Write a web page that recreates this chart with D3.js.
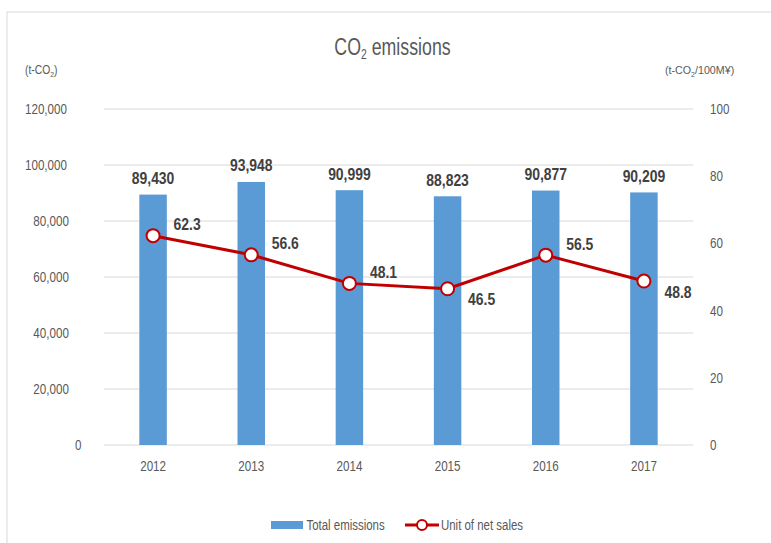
<!DOCTYPE html>
<html>
<head>
<meta charset="utf-8">
<script src="https://cdn.jsdelivr.net/npm/d3@7"></script>
<style>
  body { margin: 0; background: #fff; }
  text { font-family: "Liberation Sans", Arial, sans-serif; }
</style>
</head>
<body>
<svg id="chart"></svg>
<script>
// data
const years = ["2012", "2013", "2014", "2015", "2016", "2017"];
const totalEmissions = [89430, 93948, 90999, 88823, 90877, 90209];
const unitOfSales = [62.3, 56.6, 48.1, 46.5, 56.5, 48.8];
const leftTicks = [0, 20000, 40000, 60000, 80000, 100000, 120000];
const rightTicks = [0, 20, 40, 60, 80, 100];
const lineLabelSide = ["up", "up", "up", "down", "up", "down"];

const width = 771, height = 543;
const margin = {top: 109, bottom: 98, left: 104, right: 78};

// the reference uses a narrow font, so squeeze text horizontally around its anchor
function squeeze(sel, k) {
    sel.each(function () {
        const t = d3.select(this);
        const x0 = +t.attr("x") || 0;
        t.attr("transform", "translate(" + x0 + ",0) scale(" + k + ",1) translate(" + (-x0) + ",0)");
    });
}

const svg = d3.select("#chart")
    .attr("width", width)
    .attr("height", height);

// outer frame
svg.append("rect")
    .attr("x", 7).attr("y", 12)
    .attr("width", width + 20).attr("height", height)
    .attr("fill", "#fff")
    .attr("stroke", "#d9d9d9");

const x = d3.scaleBand()
    .domain(years)
    .range([margin.left, width - margin.right])
    .paddingInner(0.72).paddingOuter(0.36);

const yLeft = d3.scaleLinear()
    .domain([0, 120000])
    .range([height - margin.bottom, margin.top]);

const yRight = d3.scaleLinear()
    .domain([0, 100])
    .range([height - margin.bottom, margin.top]);

const fmt = d3.format(",");

// gridlines
svg.append("g")
    .selectAll("line")
    .data(leftTicks)
    .join("line")
    .attr("x1", margin.left).attr("x2", width - margin.right)
    .attr("y1", d => yLeft(d)).attr("y2", d => yLeft(d))
    .attr("stroke", "#d9d9d9").attr("stroke-width", 1);

// left axis (labels line up like a fixed-pitch column in the picture)
const leftAxis = svg.append("g")
    .call(d3.axisLeft(yLeft).tickValues(leftTicks).tickFormat(fmt).tickSize(0));
leftAxis.select(".domain").remove();
leftAxis.selectAll(".tick text")
    .attr("text-anchor", "start")
    .attr("x", d => 83.3 - 8.33 * fmt(d).length);

// right axis
const rightAxis = svg.append("g")
    .attr("transform", "translate(" + (width - margin.right + 14) + ",0)")
    .call(d3.axisRight(yRight).tickValues(rightTicks).tickSize(0));
rightAxis.select(".domain").remove();

// bottom axis
const bottomAxis = svg.append("g")
    .attr("transform", "translate(0," + (height - margin.bottom + 13) + ")")
    .call(d3.axisBottom(x).tickSize(0));
bottomAxis.select(".domain").remove();

svg.selectAll(".tick text")
    .attr("fill", "#595959")
    .style("font-size", "14px");
svg.selectAll("g").attr("font-family", null);
squeeze(svg.selectAll(".tick text"), 0.83);

// bars
svg.append("g")
    .selectAll("rect")
    .data(totalEmissions)
    .join("rect")
    .attr("x", (d, i) => x(years[i]))
    .attr("y", d => yLeft(d))
    .attr("width", x.bandwidth())
    .attr("height", d => yLeft(0) - yLeft(d))
    .attr("fill", "#5b9bd5");

const barLabels = svg.append("g")
    .selectAll("text")
    .data(totalEmissions)
    .join("text")
    .attr("x", (d, i) => x(years[i]) + x.bandwidth() / 2)
    .attr("y", d => yLeft(d) - 10.5)
    .attr("text-anchor", "middle")
    .attr("fill", "#404040")
    .style("font-size", "16px")
    .style("font-weight", "bold")
    .text(fmt);
squeeze(barLabels, 0.87);

// line
const cx = (d, i) => x(years[i]) + x.bandwidth() / 2;

svg.append("path")
    .datum(unitOfSales)
    .attr("fill", "none")
    .attr("stroke", "#c00000")
    .attr("stroke-width", 3)
    .attr("d", d3.line().x(cx).y(d => yRight(d)));

svg.append("g")
    .selectAll("circle")
    .data(unitOfSales)
    .join("circle")
    .attr("cx", cx)
    .attr("cy", d => yRight(d))
    .attr("r", 6.5)
    .attr("fill", "#fff")
    .attr("stroke", "#c00000")
    .attr("stroke-width", 2);

const lineLabels = svg.append("g")
    .selectAll("text")
    .data(unitOfSales)
    .join("text")
    .attr("x", (d, i) => cx(d, i) + 20.5)
    .attr("y", (d, i) => yRight(d) + (lineLabelSide[i] === "up" ? -5.5 : 16.5))
    .attr("fill", "#404040")
    .style("font-size", "16px")
    .style("font-weight", "bold")
    .text(d => d.toFixed(1));
squeeze(lineLabels, 0.87);

// title and axis units
const title = svg.append("text")
    .attr("x", 392.5).attr("y", 55.5)
    .attr("text-anchor", "middle")
    .attr("fill", "#595959")
    .style("font-size", "24px");
title.append("tspan").text("CO");
title.append("tspan").attr("dy", 4).style("font-size", "14px").text("2");
title.append("tspan").attr("dy", -4).text(" emissions");
squeeze(title, 0.74);

const leftUnit = svg.append("text")
    .attr("x", 25).attr("y", 74.5)
    .attr("fill", "#595959")
    .style("font-size", "12px");
leftUnit.append("tspan").text("(t-CO");
leftUnit.append("tspan").attr("dy", 2.5).style("font-size", "8px").text("2");
leftUnit.append("tspan").attr("dy", -2.5).text(")");
squeeze(leftUnit, 0.86);

const rightUnit = svg.append("text")
    .attr("x", 665).attr("y", 74.5)
    .attr("fill", "#595959")
    .style("font-size", "11.5px");
rightUnit.append("tspan").text("(t-CO");
rightUnit.append("tspan").attr("dy", 2.5).style("font-size", "7.5px").text("2");
rightUnit.append("tspan").attr("dy", -2.5).text("/100M¥)");
squeeze(rightUnit, 0.93);

// legend
const legend = svg.append("g");
legend.append("rect")
    .attr("x", 271).attr("y", 521)
    .attr("width", 32).attr("height", 8)
    .attr("fill", "#5b9bd5");
legend.append("line")
    .attr("x1", 405).attr("x2", 439)
    .attr("y1", 525).attr("y2", 525)
    .attr("stroke", "#c00000").attr("stroke-width", 3);
legend.append("circle")
    .attr("cx", 422).attr("cy", 525).attr("r", 5)
    .attr("fill", "#fff")
    .attr("stroke", "#c00000").attr("stroke-width", 2);
const legendText = legend.selectAll("text")
    .data(["Total emissions", "Unit of net sales"])
    .join("text")
    .attr("x", (d, i) => i === 0 ? 306.5 : 441)
    .attr("y", 530.5)
    .attr("fill", "#595959")
    .style("font-size", "14.5px")
    .text(d => d);
squeeze(legendText, 0.79);
</script>
</body>
</html>
